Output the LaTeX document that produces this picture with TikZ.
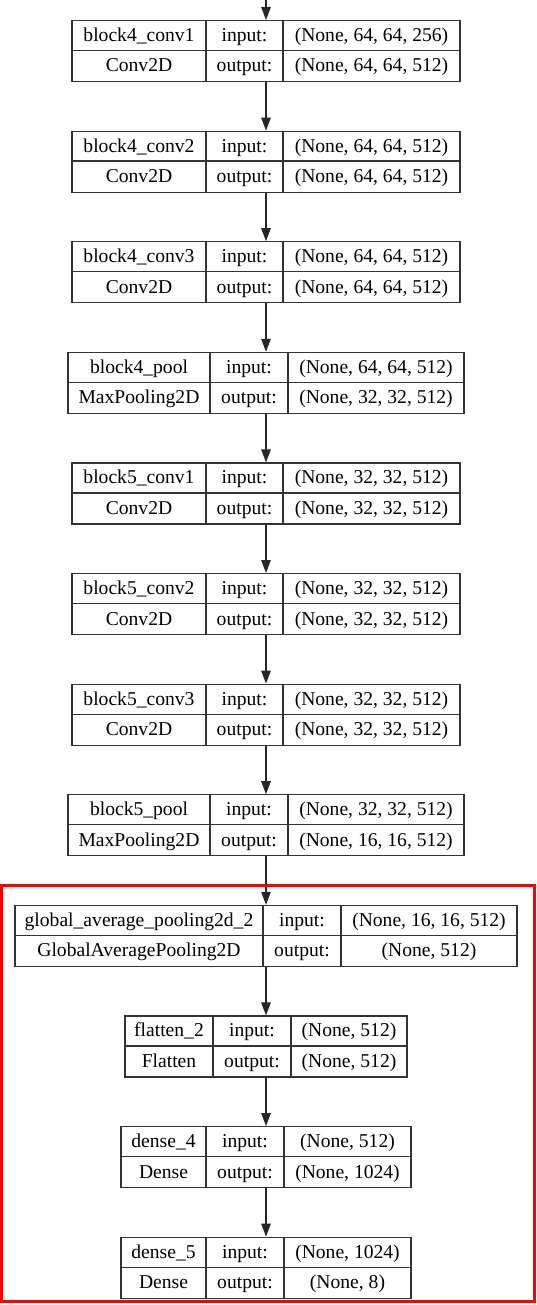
\documentclass[tikz,border=0pt]{standalone}
\usepackage{fontspec}
\setmainfont{Liberation Serif}
\usetikzlibrary{arrows.meta}

% #1 name, #2 top, #3 left, #4 first divider, #5 second divider,
% #6 layer, #7 class, #8 input shape, #9 output shape
\newcommand{\layer}[9]{%
    \node[layerbox, minimum width={(532-2*#3)*1pt}] (#1) at (266,#2) {};
    \draw[cell] (#3,{#2+30.5}) -- ({532-#3},{#2+30.5});
    \draw[cell] (#4,#2) -- (#4,{#2+61});
    \draw[cell] (#5,#2) -- (#5,{#2+61});
    \node[celltext] at ({(#3+#4)/2},{#2+21.5}) {#6};
    \node[celltext] at ({(#3+#4)/2},{#2+52}) {#7};
    \node[celltext] at ({(#4+#5)/2},{#2+21.5}) {input:};
    \node[celltext] at ({(#4+#5)/2},{#2+52}) {output:};
    \node[celltext] at ({(#5+532-#3)/2},{#2+21.5}) {#8};
    \node[celltext] at ({(#5+532-#3)/2},{#2+52}) {#9};
}

\begin{document}
\begin{tikzpicture}[x=1pt, y=-1pt]
    \tikzset{layerbox/.style={draw = black!80, line width = 1.2pt,
                anchor = north, inner sep = 0pt,
                minimum height = 61pt},
             cell/.style={draw = black!80, line width = 1.2pt},
             celltext/.style={anchor = base, inner sep = 0pt,
                font = \fontsize{19.6}{23}\selectfont},
             flow/.style={draw = black!85, line width = 1.2pt,
                -{Triangle[length = 13pt, width = 9.5pt]}}}
    \useasboundingbox (0,0) rectangle (536,1305);
    \coordinate (start) at (266,0);
    \layer{b4c1}{20}{72}{206}{283}{block4\_conv1}{Conv2D}{(None, 64, 64, 256)}{(None, 64, 64, 512)}
    \layer{b4c2}{130.6}{72}{206}{283}{block4\_conv2}{Conv2D}{(None, 64, 64, 512)}{(None, 64, 64, 512)}
    \layer{b4c3}{241.2}{72}{206}{283}{block4\_conv3}{Conv2D}{(None, 64, 64, 512)}{(None, 64, 64, 512)}
    \layer{b4p}{351.8}{68}{210}{288}{block4\_pool}{MaxPooling2D}{(None, 64, 64, 512)}{(None, 32, 32, 512)}
    \layer{b5c1}{462.4}{72}{206}{283}{block5\_conv1}{Conv2D}{(None, 32, 32, 512)}{(None, 32, 32, 512)}
    \layer{b5c2}{573}{72}{206}{283}{block5\_conv2}{Conv2D}{(None, 32, 32, 512)}{(None, 32, 32, 512)}
    \layer{b5c3}{683.6}{72}{206}{283}{block5\_conv3}{Conv2D}{(None, 32, 32, 512)}{(None, 32, 32, 512)}
    \layer{b5p}{794.2}{68}{210}{288}{block5\_pool}{MaxPooling2D}{(None, 32, 32, 512)}{(None, 16, 16, 512)}
    \layer{gap}{904.8}{15}{263}{341}{global\_average\_pooling2d\_2}{GlobalAveragePooling2D}{(None, 16, 16, 512)}{(None, 512)}
    \layer{flat}{1015.4}{125}{213}{291}{flatten\_2}{Flatten}{(None, 512)}{(None, 512)}
    \layer{d4}{1126}{121}{206}{284}{dense\_4}{Dense}{(None, 512)}{(None, 1024)}
    \layer{d5}{1236.6}{121}{206}{284}{dense\_5}{Dense}{(None, 1024)}{(None, 8)}
    % connectors
    \foreach \a/\b in {start/b4c1, b4c1/b4c2, b4c2/b4c3, b4c3/b4p, b4p/b5c1,
        b5c1/b5c2, b5c2/b5c3, b5c3/b5p, b5p/gap, gap/flat, flat/d4, d4/d5}
        \draw[flow] (\a.south) -- (\b.north);
    % highlighted head
    \draw[red, line width = 3pt] (1.5,885) rectangle (534.5,1301.5);
\end{tikzpicture}
\end{document}
